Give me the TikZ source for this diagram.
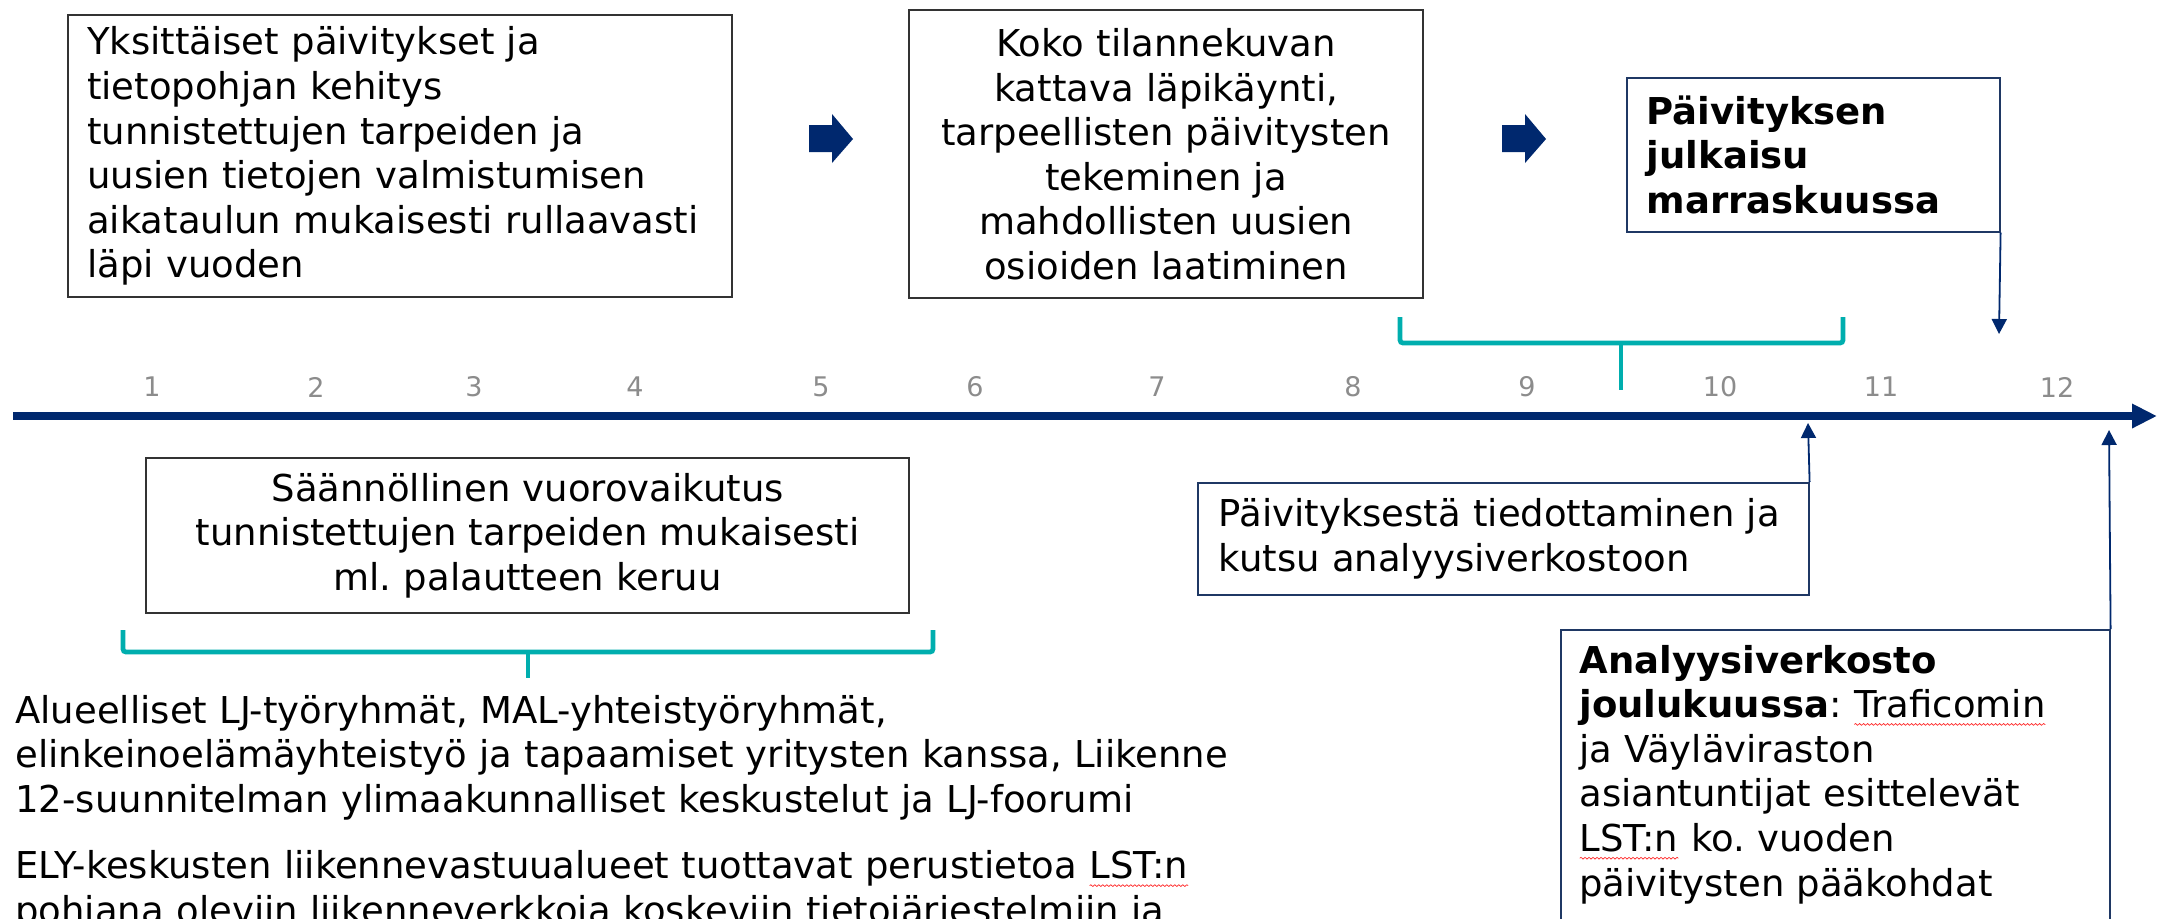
\documentclass[tikz,border=0pt]{standalone}
\usepackage{fontspec}
\setmainfont{DejaVu Sans}
\usepackage{xcolor}
\usetikzlibrary{arrows.meta,calc,decorations.pathmorphing}
\frenchspacing

\definecolor{navy}{RGB}{0,40,110}
\definecolor{boxblue}{RGB}{31,56,100}
\definecolor{brkteal}{RGB}{0,174,174}
\definecolor{numgray}{RGB}{140,140,140}

\newcommand{\boxfont}{\fontsize{18.5}{22.3}\selectfont}
\newcommand{\spellmark}[1]{\tikz[reset cm,baseline=(w.base)]{\node[inner sep=0pt,outer sep=0pt] (w) {#1};
  \draw[red!85!white,line width=0.35pt,decorate,decoration={snake,amplitude=0.45pt,segment length=2pt}] ([yshift=-3.4pt]w.base west) -- ([yshift=-3.4pt]w.base east);}}

\tikzset{
  blackbox/.style={draw=black!80,line width=1.1pt,inner ysep=0pt,anchor=north west,font=\boxfont},
  bluebox/.style={draw=boxblue,line width=0.8pt,inner ysep=0pt,anchor=north west,font=\boxfont},
  bracket/.style={draw=brkteal,line width=2.4pt,rounded corners=1.5pt},
  pointer/.style={draw=navy,line width=0.9pt,-{Triangle[length=7.5pt,width=7.5pt]}},
  monthnum/.style={text=numgray,font=\fontsize{13.5}{16}\selectfont,inner sep=0pt}
}

\begin{document}
\begin{tikzpicture}[x=0.5pt,y=0.5pt,yscale=-1,xscale=1]

\fill[white] (0,0) rectangle (2157,918);
\useasboundingbox (0,0) rectangle (2157,918);

\node[blackbox,minimum width=332pt,minimum height=141pt,inner xsep=9.5pt,text width=313pt,align=left] (rolling) at (67,14) {Yksittäiset päivitykset ja\\ tietopohjan kehitys\\ tunnistettujen tarpeiden ja\\ uusien tietojen valmistumisen\\ aikataulun mukaisesti rullaavasti\\ läpi vuoden};

\node[blackbox,minimum width=257pt,minimum height=144pt,inner xsep=8.5pt,text width=240pt,align=center] (review) at (908,9) {Koko tilannekuvan\\ kattava läpikäynti,\\ tarpeellisten päivitysten\\ tekeminen ja\\ mahdollisten uusien\\ osioiden laatiminen};

\node[bluebox,minimum width=186.5pt,minimum height=77pt,inner xsep=10pt,text width=166.5pt,align=left,font=\boxfont\bfseries] (publish) at (1626,77) {Päivityksen\\ julkaisu\\ marraskuussa};

\node[bluebox,minimum width=305.5pt,minimum height=56pt,inner xsep=10.5pt,text width=284.5pt,align=left] (inform) at (1197,482) {Päivityksestä tiedottaminen ja\\ kutsu analyysiverkostoon};

\node[bluebox,minimum width=274.5pt,minimum height=170pt] (network) at (1560,629) {};
\node[anchor=base west,inner sep=0pt,text width=255pt,align=left,font=\boxfont] (networktxt) at ($(network.north west)+(19,44)$) {\textbf{Analyysiverkosto}\\ \textbf{joulukuussa}: \spellmark{Traficomin}\\ ja Väyläviraston\\ asiantuntijat esittelevät\\ \spellmark{LST:n} ko. vuoden\\ päivitysten pääkohdat};

\node[blackbox,minimum width=381.5pt,minimum height=77.5pt,inner xsep=9.5pt,text width=362pt,align=center] (dialogue) at (145,457) {Säännöllinen vuorovaikutus\\ tunnistettujen tarpeiden mukaisesti\\ ml. palautteen keruu};

\node[anchor=base west,inner sep=0pt,text width=640pt,align=left,font=\boxfont] (forums) at (15,723) {Alueelliset LJ-työryhmät, MAL-yhteistyöryhmät,\\ elinkeinoelämäyhteistyö ja tapaamiset yritysten kanssa, Liikenne\\ 12-suunnitelman ylimaakunnalliset keskustelut ja LJ-foorumi\\[11pt] ELY-keskusten liikennevastuualueet tuottavat perustietoa \spellmark{LST:n}\\ pohjana oleviin liikenneverkkoja koskeviin tietojärjestelmiin ja};

% time axis
\coordinate (axstart) at (13,416);
\coordinate (axend) at (2157,416);
\draw[navy,line width=4.3pt,-{Triangle[length=12.5pt,width=11.5pt]}] (axstart) -- (axend);

\foreach \m/\x in {1/152,2/316,3/474,4/635,5/821,6/975,7/1157,8/1353,9/1527,10/1720,11/1881,12/2057}
  \node[monthnum] (m\m) at (\x,387) {\m};

\foreach \ax in {809,1502}
  \fill[navy] (\ax,125) -- ++(23,0) -- ++(0,-11) -- ++(21,25) -- ++(-21,24) -- ++(0,-11) -- ++(-23,0) -- cycle;

\draw[bracket] (1400,317) -- (1400,343) -- (1843,343) -- (1843,317);
\draw[bracket] (1621,343) -- (1621,390);

\draw[bracket] (123,630) -- (123,652) -- (933,652) -- (933,630);
\draw[bracket] (528,652) -- (528,678);

\coordinate (pubmark) at (1999,334);
\coordinate (infomark) at (1808,423);
\coordinate (netmark) at (2109,430);
\draw[pointer] (publish.south east) -- (pubmark);
\draw[pointer] (inform.north east) -- (infomark);
\draw[pointer] (network.north east) -- (netmark);

\end{tikzpicture}
\end{document}
